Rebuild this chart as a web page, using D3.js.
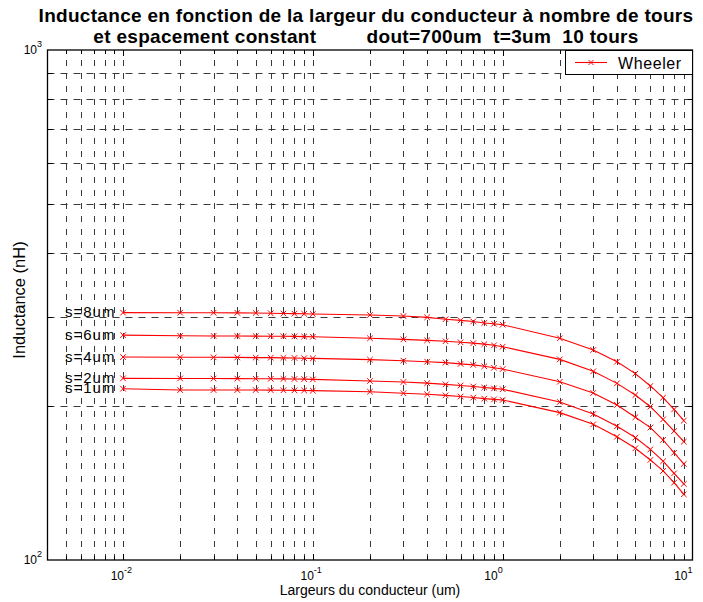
<!DOCTYPE html>
<html>
<head>
<meta charset="utf-8">
<script src="https://cdn.jsdelivr.net/npm/d3@7"></script>
<style>
  html, body { margin: 0; padding: 0; background: #fff; }
  text { font-family: "Liberation Sans", Arial, Helvetica, sans-serif; }
</style>
</head>
<body>
<script>
// ---------------- DATA ----------------
const titleLine1 = "Inductance en fonction de la largeur du conducteur à nombre de tours";
const titleLine2 = "et espacement constant         dout=700um  t=3um  10 tours";
const xLabel = "Largeurs du conducteur (um)";
const yLabel = "Inductance (nH)";
const legendLabel = "Wheeler";

const widths = [0.01, 0.02, 0.03, 0.04, 0.05, 0.06, 0.07, 0.08, 0.09,
                0.1, 0.2, 0.3, 0.4, 0.5, 0.6, 0.7, 0.8, 0.9,
                1, 2, 3, 4, 5, 6, 7, 8, 9];

const L_s1 = [216.7, 215.4, 215.4, 215.4, 215.4, 215.3, 215.2, 215.1, 215.0,
              214.8, 213.8, 212.3, 211.3, 210.3, 209.2, 208.2, 207.2, 206.5,
              206.0, 194.5, 184.5, 174.5, 165.6, 157.1, 149.5, 141.8, 134.5];
const L_s2 = [227.1, 227.0, 226.9, 226.8, 226.7, 226.6, 226.5, 226.4, 226.3,
              226.0, 224.4, 223.4, 222.2, 221.0, 219.9, 218.9, 217.9, 217.0,
              216.2, 204.1, 193.3, 182.9, 173.8, 164.8, 156.2, 147.9, 141.0];
const L_s4 = [250.0, 249.8, 249.7, 249.6, 249.4, 249.3, 249.1, 249.0, 248.7,
              248.5, 247.1, 245.9, 244.8, 243.8, 242.4, 241.3, 239.8, 238.2,
              236.8, 223.6, 212.6, 201.4, 190.5, 181.8, 171.9, 162.3, 154.3];
const L_s6 = [276.0, 275.2, 275.0, 274.9, 274.8, 274.7, 274.6, 274.4, 274.2,
              274.0, 272.1, 270.8, 269.6, 268.5, 267.2, 266.2, 265.0, 263.6,
              262.0, 247.4, 234.4, 222.0, 210.6, 199.8, 188.7, 179.0, 170.6];
const L_s8 = [305.5, 305.4, 305.3, 305.2, 305.0, 304.6, 304.3, 304.1, 303.9,
              303.6, 302.3, 300.9, 299.1, 296.6, 295.0, 293.6, 291.6, 290.5,
              289.3, 272.1, 258.1, 244.8, 232.0, 219.4, 208.1, 197.4, 187.6];

const seriesNames = ["s=1um", "s=2um", "s=4um", "s=6um", "s=8um"];
const seriesValues = [L_s1, L_s2, L_s4, L_s6, L_s8];

const xDomain = [0.004, 10];
const yDomain = [100, 1000];
const xTickExps = [-2, -1, 0, 1];
const yTickExps = [2, 3];

(function () {
// ---------------- LAYOUT ----------------
const W = 703, H = 602;
const pL = 47.5, pR = 692.5, pT = 50, pB = 560;
const red = "#ff0000";
const gridColor = "#3a3a3a";

const svg = d3.select("body").append("svg")
  .attr("width", W).attr("height", H)
  .style("display", "block");
svg.append("rect").attr("width", W).attr("height", H).attr("fill", "#fff");

const x = d3.scaleLog().domain(xDomain).range([pL, pR]);
const y = d3.scaleLog().domain(yDomain).range([pB, pT]);

// ---------------- GRID ----------------
const grid = svg.append("g");
const xGridVals = x.ticks().filter(v => x(v) > pL + 1 && x(v) < pR - 1);
const yGridVals = y.ticks().filter(v => y(v) > pT + 1 && y(v) < pB - 1);

grid.selectAll("line.vg").data(xGridVals).join("line")
  .attr("class", "vg")
  .attr("x1", d => Math.round(x(d)) + 0.5).attr("x2", d => Math.round(x(d)) + 0.5)
  .attr("y1", pB).attr("y2", pT)
  .attr("stroke", gridColor).attr("stroke-width", 1)
  .attr("stroke-dasharray", "6,7");

grid.selectAll("line.hg").data(yGridVals).join("line")
  .attr("class", "hg")
  .attr("x1", pL).attr("x2", pR)
  .attr("y1", d => Math.round(y(d)) + 0.5).attr("y2", d => Math.round(y(d)) + 0.5)
  .attr("stroke", gridColor).attr("stroke-width", 1)
  .attr("stroke-dasharray", "7,6");

// ---------------- TICKS (inward, all sides) ----------------
const ticks = svg.append("g").attr("stroke", "#000").attr("stroke-width", 1);
const isMajor = v => Math.abs(Math.log10(v) - Math.round(Math.log10(v))) < 1e-9;
xGridVals.forEach(v => {
  const px = Math.round(x(v)) + 0.5, len = isMajor(v) ? 6 : 4;
  ticks.append("line").attr("x1", px).attr("x2", px).attr("y1", pB).attr("y2", pB - len);
  ticks.append("line").attr("x1", px).attr("x2", px).attr("y1", pT).attr("y2", pT + len);
});
yGridVals.forEach(v => {
  const py = Math.round(y(v)) + 0.5, len = 5;
  ticks.append("line").attr("x1", pL).attr("x2", pL + len).attr("y1", py).attr("y2", py);
  ticks.append("line").attr("x1", pR).attr("x2", pR - len).attr("y1", py).attr("y2", py);
});

// ---------------- SERIES ----------------
const line = d3.line().x(d => x(d[0])).y(d => y(d[1]));
const plot = svg.append("g");
seriesValues.forEach((vals, i) => {
  const pts = widths.map((w, j) => [w, vals[j]]);
  plot.append("path").datum(pts)
    .attr("d", line).attr("fill", "none")
    .attr("stroke", red).attr("stroke-width", 1.1);
  const m = 2.8;
  plot.append("g").selectAll("path").data(pts).join("path")
    .attr("d", d => {
      const cx = x(d[0]), cy = y(d[1]);
      return `M${cx - m},${cy - m}L${cx + m},${cy + m}M${cx - m},${cy + m}L${cx + m},${cy - m}`;
    })
    .attr("stroke", red).attr("stroke-width", 1).attr("fill", "none");
  svg.append("text")
    .attr("x", 65).attr("y", y(vals[0]) + 4.5)
    .attr("font-size", 15).attr("letter-spacing", 1).attr("fill", "#000")
    .text(seriesNames[i]);
});

// ---------------- AXES BOX ----------------
svg.append("rect")
  .attr("x", pL).attr("y", pT).attr("width", pR - pL).attr("height", pB - pT)
  .attr("fill", "none").attr("stroke", "#000").attr("stroke-width", 1.3);

// ---------------- TICK LABELS ----------------
xTickExps.forEach(e => {
  const t = svg.append("text")
    .attr("x", x(Math.pow(10, e)) + (e < 0 ? 9 : 0))
    .attr("y", 580).attr("text-anchor", "end")
    .attr("font-size", 12).attr("fill", "#000");
  t.append("tspan").text("10");
  t.append("tspan").attr("dy", -7).attr("font-size", 9).text(String(e));
});
yTickExps.forEach(e => {
  const t = svg.append("text")
    .attr("x", 42)
    .attr("y", y(Math.pow(10, e)) + 4).attr("text-anchor", "end")
    .attr("font-size", 12).attr("fill", "#000");
  t.append("tspan").text("10");
  t.append("tspan").attr("dy", -7).attr("font-size", 9).text(String(e));
});

// ---------------- AXIS LABELS ----------------
svg.append("text")
  .attr("x", (pL + pR) / 2).attr("y", 595)
  .attr("text-anchor", "middle").attr("font-size", 14).attr("fill", "#000")
  .text(xLabel);
svg.append("text")
  .attr("transform", `translate(25,300) rotate(-90)`)
  .attr("text-anchor", "middle").attr("font-size", 16.5).attr("fill", "#000")
  .text(yLabel);

// ---------------- TITLE ----------------
[titleLine1, titleLine2].forEach((s, i) => {
  svg.append("text")
    .attr("x", 366).attr("y", 22 + i * 21)
    .attr("text-anchor", "middle").attr("font-size", 19).attr("font-weight", "bold")
    .attr("letter-spacing", 0.3)
    .attr("fill", "#000").style("white-space", "pre")
    .text(s);
});

// ---------------- LEGEND ----------------
const lg = svg.append("g");
lg.append("rect").attr("x", 565.5).attr("y", 50.5).attr("width", 127).attr("height", 24)
  .attr("fill", "#fff").attr("stroke", "#000").attr("stroke-width", 1);
lg.append("line").attr("x1", 575).attr("x2", 607).attr("y1", 62.5).attr("y2", 62.5)
  .attr("stroke", red).attr("stroke-width", 1.1);
{
  const cx = 591, cy = 62.5, m = 2.5;
  lg.append("path").attr("d", `M${cx - m},${cy - m}L${cx + m},${cy + m}M${cx - m},${cy + m}L${cx + m},${cy - m}`)
    .attr("stroke", red).attr("stroke-width", 1);
}
lg.append("text").attr("x", 618).attr("y", 68.5).attr("font-size", 16)
  .attr("letter-spacing", 0.6).attr("fill", "#000")
  .text(legendLabel);
})();
</script>
</body>
</html>
